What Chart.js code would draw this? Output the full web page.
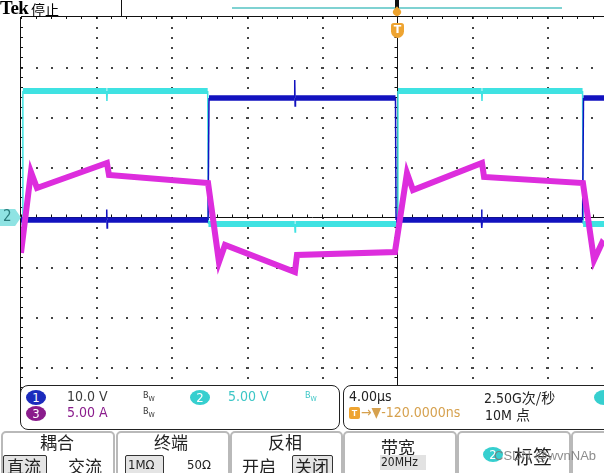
<!DOCTYPE html>
<html>
<head>
<meta charset="utf-8">
<script src="https://cdn.jsdelivr.net/npm/chart.js@4.4.1/dist/chart.umd.min.js"></script>
<style>
  body { margin: 0; background: #fff; }
  #scope { position: relative; width: 604px; height: 473px; overflow: hidden; background: #fff;
           font-family: "DejaVu Sans Condensed", "DejaVu Sans", sans-serif; }
  #scope canvas { position: absolute; left: 0; top: 0; }
  .abs { position: absolute; white-space: nowrap; }
  .cjk { font-family: "Noto Sans CJK SC", sans-serif; }
  .panel { position: absolute; top: 385px; height: 43px; border: 1.5px solid #222; border-radius: 8px; background: #fff; }
  .btn { position: absolute; top: 431px; height: 50px; border: 2px solid #b9b9b9; border-radius: 5px; background: #fff; }
  .badge { position: absolute; width: 20px; height: 15px; border-radius: 50%; color: #fff; font-size: 13px;
           line-height: 15px; text-align: center; }
  .bw { position: absolute; font-size: 9px; }
  .sel { position: absolute; border: 1px solid #333; background: #e4e4e4; border-radius: 2px; }
</style>
</head>
<body>
<div id="scope">
  <canvas id="myChart" width="604" height="473"></canvas>

  <!-- header -->
  <div class="abs" style="left:0;top:-3px;font:bold 19px 'Liberation Serif',serif;letter-spacing:-0.5px;">Tek</div>
  <div class="abs cjk" style="left:31px;top:-1px;font-size:14px;">停止</div>
  <div class="abs" style="left:121px;top:-1px;width:500px;height:16px;border:1.5px solid #111;background:#fff;"></div>
  <div class="abs" style="left:232px;top:7px;width:330px;height:2px;background:#7fd2d2;"></div>
  <div class="abs" style="left:395px;top:0;width:4px;height:12px;background:#111;"></div>
  <div class="abs" style="left:393px;top:8px;width:8px;height:8px;background:#eda22c;border-radius:50% 0 50% 50%;transform:rotate(-45deg);"></div>
  <div class="abs" style="left:391px;top:23px;width:13px;height:15px;background:#eea431;border-radius:3px 3px 7px 7px;color:#fff;font:bold 11px 'DejaVu Sans',sans-serif;line-height:14px;text-align:center;">T</div>

  <!-- channel 2 ground marker -->
  <div class="abs" style="left:0;top:209px;width:21px;height:17px;background:#8fe3e3;clip-path:polygon(0 0,72% 0,100% 50%,72% 100%,0 100%);"></div>
  <div class="abs" style="left:3px;top:207px;font-size:15px;color:#2a7b7b;">2</div>

  <!-- readout panels -->
  <div class="panel" style="left:20px;width:318px;"></div>
  <div class="panel" style="left:343px;width:300px;"></div>
  <div class="badge" style="left:26px;top:390px;background:#1b2bbd;">1</div>
  <div class="abs" style="left:67px;top:388px;font-size:14px;color:#3a3a3a;">10.0 V</div>
  <div class="bw" style="left:143px;top:390px;color:#333;">B<sub style="font-size:7px">W</sub></div>
  <div class="badge" style="left:190px;top:390px;background:#36cfcf;">2</div>
  <div class="abs" style="left:228px;top:388px;font-size:14px;color:#3cc6c6;">5.00 V</div>
  <div class="bw" style="left:305px;top:390px;color:#3cc6c6;">B<sub style="font-size:7px">W</sub></div>
  <div class="badge" style="left:26px;top:406px;background:#8a1c8c;">3</div>
  <div class="abs" style="left:67px;top:404px;font-size:14px;color:#8a1c8c;">5.00 A</div>
  <div class="bw" style="left:143px;top:406px;color:#333;">B<sub style="font-size:7px">W</sub></div>

  <div class="abs" style="left:349px;top:388px;font-size:14px;color:#222;">4.00µs</div>
  <div class="abs" style="left:484px;top:387px;font-size:14px;color:#222;">2.50G<span class="cjk">次/秒</span></div>
  <div class="abs" style="left:349px;top:407px;width:11px;height:12px;background:#eea431;border-radius:2px;color:#fff;font:bold 9px sans-serif;line-height:12px;text-align:center;">T</div>
  <div class="abs" style="left:361px;top:404px;font-size:14px;color:#d6a14e;">→▼-120.0000ns</div>
  <div class="abs" style="left:485px;top:404px;font-size:14px;color:#222;">10M <span class="cjk">点</span></div>
  <div class="badge" style="left:594px;top:390px;background:#36cfcf;"></div>

  <!-- menu buttons -->
  <div class="btn" style="left:1px;width:110px;"></div>
  <div class="btn" style="left:116px;width:110px;"></div>
  <div class="btn" style="left:230px;width:109px;"></div>
  <div class="btn" style="left:343px;width:110px;"></div>
  <div class="btn" style="left:457px;width:110px;"></div>
  <div class="btn" style="left:571px;width:60px;"></div>

  <div class="abs cjk" style="left:40px;top:429px;font-size:17px;color:#222;">耦合</div>
  <div class="sel" style="left:3px;top:455px;width:42px;height:22px;"></div>
  <div class="abs cjk" style="left:7px;top:453px;font-size:17px;color:#222;">直流</div>
  <div class="abs cjk" style="left:68px;top:453px;font-size:17px;color:#222;">交流</div>

  <div class="abs cjk" style="left:154px;top:429px;font-size:17px;color:#222;">终端</div>
  <div class="sel" style="left:125px;top:455px;width:37px;height:22px;"></div>
  <div class="abs" style="left:128px;top:457px;font-size:13px;color:#222;">1MΩ</div>
  <div class="abs" style="left:187px;top:457px;font-size:13px;color:#222;">50Ω</div>

  <div class="abs cjk" style="left:268px;top:429px;font-size:17px;color:#222;">反相</div>
  <div class="abs cjk" style="left:242px;top:453px;font-size:17px;color:#222;">开启</div>
  <div class="sel" style="left:292px;top:455px;width:39px;height:22px;"></div>
  <div class="abs cjk" style="left:295px;top:453px;font-size:17px;color:#222;">关闭</div>

  <div class="abs cjk" style="left:381px;top:434px;font-size:17px;color:#222;">带宽</div>
  <div class="abs" style="left:380px;top:455px;width:46px;height:15px;background:#e2e2e2;"></div>
  <div class="abs" style="left:381px;top:455px;font-size:12px;color:#222;">20MHz</div>

  <div class="badge" style="left:483px;top:447px;background:#36cfcf;">2</div>
  <div class="abs cjk" style="left:514px;top:442px;font-size:19px;color:#222;">标签</div>
  <div class="abs" style="left:494px;top:448px;font:13px 'Liberation Sans',sans-serif;color:rgba(120,120,120,0.85);">CSDN @wvnNAb</div>
</div>

<script>
// Time axis in µs (4.00 µs/div, trigger at centre). Values in V / A per channel.
const ch1Time = [-20, -15.46, -15.44, -15.42, -15.40, -10.05, -10.0, -5.46, -5.44, -5.42, -5.40, -0.08, -0.05, 4.48, 4.50, 4.52, 4.54, 9.87, 9.92, 11.01];
const ch1Volts = [-0.6, -0.6, 1.5, -2.2, -0.6, -0.6, 23.8, 23.8, 27.4, 22.2, 23.8, 23.8, -0.6, -0.6, 1.5, -2.2, -0.6, -0.6, 23.8, 23.8];

const ch2Time = [-20, -19.93, -19.90, -15.45, -15.43, -15.41, -10.07, -10.03, -5.44, -5.42, -5.40, 0.0, 0.05, 4.50, 4.52, 4.54, 9.87, 9.90, 11.01];
const ch2Volts = [-0.7, -0.7, 12.6, 12.6, 11.6, 12.6, 12.6, -0.7, -0.7, -1.5, -0.7, -0.7, 12.6, 12.6, 11.6, 12.6, 12.6, -0.7, -0.7];

const ch3Time = [-20, -19.47, -19.15, -15.43, -15.32, -10.05, -9.47, -9.15, -5.43, -5.32, -0.11, 0.53, 0.85, 4.52, 4.63, 9.89, 10.48, 10.90, 11.01];
const ch3Amps = [-3.6, 4.5, 2.9, 5.4, 4.2, 3.4, -4.5, -2.8, -5.5, -3.8, -3.5, 4.4, 2.7, 5.4, 4.0, 3.4, -4.3, -2.6, -2.8];

const voltsPerDiv = { ch1: 10, ch2: 5, ch3: 5 };
const xDivs = [-16, -12, -8, -4, 4, 8];
const yDivs = [-3, -2, -1, 1, 2, 3];
const xMin = -20, xMax = 11.01;

function toPoints(times, values, scale) {
  return times.map((t, i) => ({ x: t, y: values[i] / scale }));
}

// edges and spikes are drawn thin, flat parts thick like the scope trace
function edgeWidth(thick) {
  return ctx => (Math.abs(ctx.p1.parsed.x - ctx.p0.parsed.x) < 0.1 ? 1.5 : thick);
}

const scopeFrame = {
  id: 'scopeFrame',
  beforeDatasetsDraw(chart) {
    const { ctx, chartArea: a, scales: { x, y } } = chart;
    const cx = Math.round(x.getPixelForValue(0)) + 0.5;
    const cy = Math.round(y.getPixelForValue(0)) + 0.5;
    const top = Math.round(a.top), left = Math.round(a.left);
    ctx.save();

    // dotted graticule
    ctx.fillStyle = '#444';
    xDivs.forEach(v => {
      const px = Math.round(x.getPixelForValue(v));
      for (let py = top; py < a.bottom; py += 10) ctx.fillRect(px, py, 2, 2);
    });
    yDivs.forEach(v => {
      const py = Math.round(y.getPixelForValue(v));
      for (let px = left; px < a.right; px += 15) ctx.fillRect(px, py, 2, 2);
    });

    ctx.strokeStyle = '#111';
    ctx.lineWidth = 1;
    ctx.beginPath();
    // centre cross
    ctx.moveTo(a.left, cy); ctx.lineTo(a.right, cy);
    ctx.moveTo(cx, a.top); ctx.lineTo(cx, a.bottom);
    // left and top border
    ctx.moveTo(a.left - 0.5, a.top); ctx.lineTo(a.left - 0.5, a.bottom);
    ctx.moveTo(a.left, a.top - 0.5); ctx.lineTo(a.right, a.top - 0.5);
    // minor ticks, 5 per division
    for (let t = xMin; t <= xMax; t += 0.8) {
      const px = Math.round(x.getPixelForValue(t)) + 0.5;
      ctx.moveTo(px, cy - 3); ctx.lineTo(px, cy);
      ctx.moveTo(px, a.top); ctx.lineTo(px, a.top + 2);
    }
    for (let d = -4; d <= 4; d += 0.2) {
      const py = Math.round(y.getPixelForValue(d)) + 0.5;
      ctx.moveTo(cx - 3, py); ctx.lineTo(cx, py);
      ctx.moveTo(a.left, py); ctx.lineTo(a.left + 2, py);
    }
    ctx.stroke();
    ctx.restore();
  }
};

const ctx = document.getElementById('myChart').getContext('2d');
const myChart = new Chart(ctx, {
  type: 'line',
  data: {
    datasets: [
      {
        label: 'CH3',
        data: toPoints(ch3Time, ch3Amps, voltsPerDiv.ch3),
        borderColor: '#dd2ddd',
        borderWidth: 6,
        segment: { borderWidth: edgeWidth(6) }
      },
      {
        label: 'CH1',
        data: toPoints(ch1Time, ch1Volts, voltsPerDiv.ch1),
        borderColor: '#1212bf',
        borderWidth: 5.5,
        segment: { borderWidth: edgeWidth(5.5) }
      },
      {
        label: 'CH2',
        data: toPoints(ch2Time, ch2Volts, voltsPerDiv.ch2),
        borderColor: '#3fe2e2',
        borderWidth: 6,
        segment: { borderWidth: edgeWidth(6) }
      }
    ]
  },
  options: {
    responsive: false,
    animation: false,
    devicePixelRatio: 1,
    layout: { padding: { left: 21, top: 17, right: 0, bottom: 56 } },
    elements: { point: { radius: 0 }, line: { tension: 0, borderJoinStyle: 'miter' } },
    scales: {
      x: {
        type: 'linear',
        min: xMin,
        max: xMax,
        afterFit: scale => { scale.height = 0; },
        ticks: { display: false },
        grid: { display: false },
        border: { display: false }
      },
      y: {
        type: 'linear',
        min: -4,
        max: 4,
        afterFit: scale => { scale.width = 0; },
        ticks: { display: false },
        grid: { display: false },
        border: { display: false }
      }
    },
    plugins: {
      legend: { display: false },
      tooltip: { enabled: false }
    }
  },
  plugins: [scopeFrame]
});
</script>
</body>
</html>
